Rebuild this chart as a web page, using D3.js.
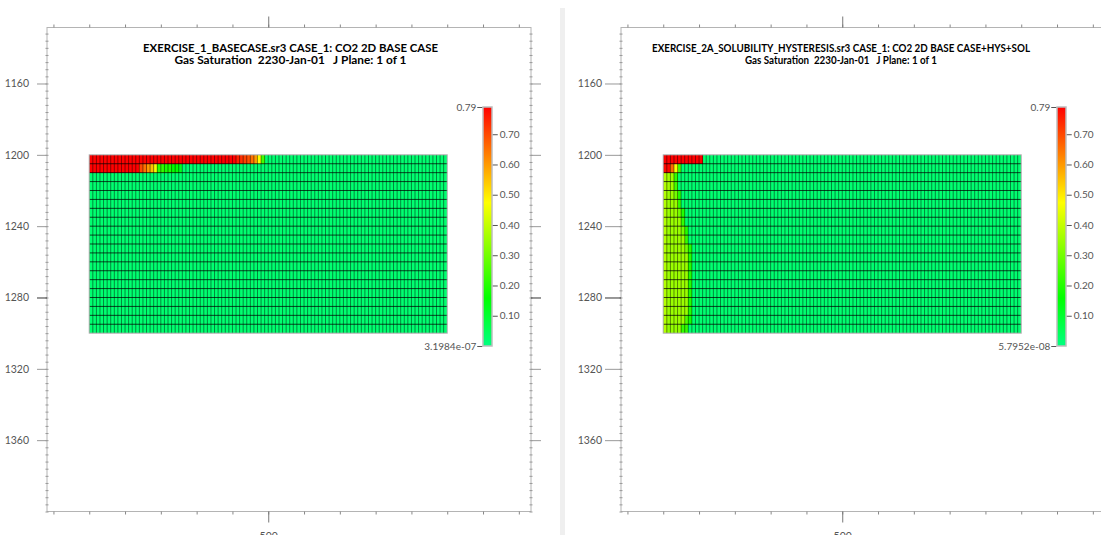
<!DOCTYPE html>
<html><head><meta charset="utf-8">
<script src="https://cdn.jsdelivr.net/npm/d3@7"></script>
<style>html,body{margin:0;padding:0;background:#fff;overflow:hidden}</style>
</head><body>
<svg id="chart" width="1101" height="535"></svg>
<script>
// ---------------- data ----------------
const nCols = 100;          // grid columns (I direction)
const nRows = 20;           // grid layers (K direction)
const cellWidth = 10;       // m
const cellHeight = 5;       // m
const gridTopDepth = 1200;  // m
const backgroundValue = 0.02;

// run-length rows: [value, count] from the left edge; rest of row = background
const leftRuns = [
  [[0.79,41],[0.75,1],[0.73,1],[0.71,1],[0.69,1],[0.65,1],[0.60,1],[0.47,1],[0.24,1]],
  [[0.79,14],[0.70,1],[0.65,1],[0.60,1],[0.55,1],[0.46,1],[0.22,2],[0.19,2],[0.16,2],[0.12,1]]
];
const rightRuns = [
  [[0.79,11]],
  [[0.78,2],[0.66,1],[0.47,1],[0.24,1]],
  [[0.38,1],[0.36,2],[0.22,1]],
  [[0.38,1],[0.36,2],[0.24,1]],
  [[0.38,1],[0.35,2],[0.30,1],[0.20,1]],
  [[0.38,1],[0.35,3],[0.22,1]],
  [[0.38,1],[0.35,3],[0.30,1],[0.20,1]],
  [[0.38,1],[0.35,4],[0.22,1]],
  [[0.38,1],[0.35,4],[0.30,1],[0.20,1]],
  [[0.38,1],[0.35,5],[0.22,1]],
  [[0.38,1],[0.35,5],[0.30,1],[0.20,1]],
  [[0.38,1],[0.35,6],[0.20,1]],
  [[0.38,1],[0.35,6],[0.20,1]],
  [[0.38,1],[0.35,6],[0.20,1]],
  [[0.38,1],[0.35,6],[0.20,1]],
  [[0.38,1],[0.35,6],[0.20,1]],
  [[0.38,1],[0.35,6],[0.20,1]],
  [[0.38,1],[0.35,6],[0.20,1]],
  [[0.38,1],[0.35,5],[0.25,1],[0.18,1]],
  [[0.38,1],[0.34,4],[0.22,2]]
];

const yTickLabels = [1160, 1200, 1240, 1280, 1320, 1360];
const yMinorTicks = d3.range(1132, 1401, 4);
const xTickLabels = [500];
const xMinorTicks = d3.range(-100, 1201, 100);
const colorbarTicks = [0.10, 0.20, 0.30, 0.40, 0.50, 0.60, 0.70];
const colorbarMax = 0.79;
const colorStops = [0, 0.158, 0.474, 0.79];
const colorRange = ["#00ff80", "#00ff00", "#ffff00", "#ff0000"];

const xDomain = [-118, 1234];
const yDomain = [1128.6, 1400];

const panels = [
  { frameX: [47, 531], frameY: [27.5, 511.5], yTickLen: 10, yLabelGap: 8,
    title: ["EXERCISE_1_BASECASE.sr3 CASE_1: CO2 2D BASE CASE",
            "Gas Saturation  2230-Jan-01   J Plane: 1 of 1"],
    titleCenter: 290.5, titleWidths: [295, 232], titleSize: 11,
    runs: leftRuns, cbX: 483, cbMinLabel: "3.1984e-07" },
  { frameX: [621, 1105], frameY: [27.5, 511.5], yTickLen: 16, yLabelGap: 3,
    title: ["EXERCISE_2A_SOLUBILITY_HYSTERESIS.sr3 CASE_1: CO2 2D BASE CASE+HYS+SOL",
            "Gas Saturation  2230-Jan-01   J Plane: 1 of 1"],
    titleCenter: 841, titleWidths: [378, 192], titleSize: 10.5,
    runs: rightRuns, cbX: 1057, cbMinLabel: "5.7952e-08" }
];

// ---------------- drawing ----------------
const svg = d3.select("#chart");
svg.append("rect").attr("width", 1101).attr("height", 535).attr("fill", "#fff");
svg.append("rect").attr("x", 560).attr("y", 8).attr("width", 5).attr("height", 527).attr("fill", "#efefef");

const color = d3.scaleLinear().domain(colorStops).range(colorRange).clamp(true);
const tickFont = "Lato, 'Noto Sans', sans-serif";

function expand(runs) {
  const grid = [];
  for (let r = 0; r < nRows; r++) {
    const row = [];
    (runs[r] || []).forEach(([v, n]) => { for (let i = 0; i < n; i++) row.push(v); });
    while (row.length < nCols) row.push(backgroundValue);
    grid.push(row);
  }
  return grid;
}

panels.forEach((p, pi) => {
  const g = svg.append("g");
  const x = d3.scaleLinear().domain(xDomain).range(p.frameX);
  const y = d3.scaleLinear().domain(yDomain).range(p.frameY);
  const [x0, x1] = p.frameX, [y0, y1] = p.frameY;

  // cells
  const grid = expand(p.runs);
  const cells = [];
  grid.forEach((row, r) => row.forEach((v, c) => cells.push({ r, c, v })));
  g.append("g").selectAll("rect").data(cells).join("rect")
    .attr("x", d => x(d.c * cellWidth))
    .attr("y", d => y(gridTopDepth + d.r * cellHeight))
    .attr("width", x(cellWidth) - x(0) + 0.05)
    .attr("height", y(cellHeight) - y(0) + 0.05)
    .attr("fill", d => color(d.v))
    .attr("shape-rendering", "crispEdges");

  // cell edges
  const gl = g.append("g").attr("stroke", "#000");
  gl.selectAll("line.v").data(d3.range(1, nCols)).join("line").attr("class", "v")
    .attr("x1", c => x(c * cellWidth)).attr("x2", c => x(c * cellWidth))
    .attr("y1", y(gridTopDepth)).attr("y2", y(gridTopDepth + nRows * cellHeight))
    .attr("stroke-width", 0.55).attr("stroke-opacity", 0.85);
  gl.selectAll("line.h").data(d3.range(1, nRows)).join("line").attr("class", "h")
    .attr("y1", r => y(gridTopDepth + r * cellHeight)).attr("y2", r => y(gridTopDepth + r * cellHeight))
    .attr("x1", x(0)).attr("x2", x(nCols * cellWidth))
    .attr("stroke-width", 0.9).attr("stroke-opacity", 0.8);
  g.append("rect")
    .attr("x", x(0)).attr("y", y(gridTopDepth))
    .attr("width", x(nCols * cellWidth) - x(0)).attr("height", y(gridTopDepth + nRows * cellHeight) - y(gridTopDepth))
    .attr("fill", "none").attr("stroke", "#aaa").attr("stroke-width", 1);

  // frame
  g.append("rect").attr("x", x0).attr("y", y0).attr("width", x1 - x0).attr("height", y1 - y0)
    .attr("fill", "none").attr("stroke", "#b4b4b4").attr("stroke-width", 1);

  const styleAxis = (sel, col) => {
    sel.select(".domain").remove();
    sel.selectAll(".tick line").attr("stroke", col);
    sel.selectAll(".tick text").attr("fill", "#555").style("font-family", tickFont).style("font-size", "10.5px");
  };

  // left axis minor
  g.append("g").attr("transform", `translate(${x0 + 1.5},0)`)
    .call(d3.axisLeft(y).tickValues(yMinorTicks).tickSize(3).tickFormat(""))
    .call(s => styleAxis(s, "#999"));
  // left axis major with labels
  g.append("g").attr("transform", `translate(${x0},0)`)
    .call(d3.axisLeft(y).tickValues(yTickLabels).tickSize(p.yTickLen).tickPadding(p.yLabelGap).tickFormat(d3.format("d")))
    .call(s => styleAxis(s, "#999"))
    .call(s => s.selectAll(".tick line").attr("stroke", d => d === 1280 ? "#333" : "#999"));
  // right side
  g.append("g").attr("transform", `translate(${x1 - 1.5},0)`)
    .call(d3.axisRight(y).tickValues(yMinorTicks).tickSize(3).tickFormat(""))
    .call(s => styleAxis(s, "#999"));
  g.append("g").attr("transform", `translate(${x1},0)`)
    .call(d3.axisRight(y).tickValues(yTickLabels).tickSize(10).tickFormat(""))
    .call(s => styleAxis(s, "#999"))
    .call(s => s.selectAll(".tick line").attr("stroke", d => d === 1280 ? "#333" : "#999"));
  // top
  g.append("g").attr("transform", `translate(0,${y0})`)
    .call(d3.axisTop(x).tickValues(xMinorTicks).tickSize(3).tickFormat(""))
    .call(s => styleAxis(s, "#888"));
  g.append("g").attr("transform", `translate(0,${y0})`)
    .call(d3.axisTop(x).tickValues(xTickLabels).tickSize(11).tickFormat(""))
    .call(s => styleAxis(s, "#777"));
  // bottom
  g.append("g").attr("transform", `translate(0,${y1})`)
    .call(d3.axisBottom(x).tickValues(xMinorTicks).tickSize(3).tickFormat(""))
    .call(s => styleAxis(s, "#888"));
  g.append("g").attr("transform", `translate(0,${y1})`)
    .call(d3.axisBottom(x).tickValues(xTickLabels).tickSize(11).tickPadding(10).tickFormat(d3.format("d")))
    .call(s => styleAxis(s, "#777"));

  // title
  p.title.forEach((t, i) => {
    g.append("text").attr("x", p.titleCenter).attr("y", 51.5 + i * 12.5)
      .attr("text-anchor", "middle")
      .attr("textLength", p.titleWidths[i]).attr("lengthAdjust", "spacingAndGlyphs")
      .style("white-space", "pre").attr("xml:space", "preserve")
      .style("font-family", "Lato, 'Noto Sans', sans-serif").style("font-weight", "bold")
      .style("font-size", p.titleSize + "px").attr("fill", "#000").text(t);
  });

  // colorbar
  const cbY = d3.scaleLinear().domain([0, colorbarMax]).range([346, 107]);
  const gradId = "cbgrad" + pi;
  const grad = svg.append("defs").append("linearGradient").attr("id", gradId)
    .attr("x1", 0).attr("y1", 1).attr("x2", 0).attr("y2", 0);
  colorStops.forEach(v => grad.append("stop").attr("offset", v / colorbarMax).attr("stop-color", color(v)));
  const cbW = 9;
  g.append("rect").attr("x", p.cbX).attr("y", cbY(colorbarMax)).attr("width", cbW)
    .attr("height", cbY(0) - cbY(colorbarMax))
    .attr("fill", `url(#${gradId})`).attr("stroke", "#bdbdbd").attr("stroke-width", 1.5);
  g.append("g").attr("transform", `translate(${p.cbX + cbW + 0.75},0)`)
    .call(d3.axisRight(cbY).tickValues(colorbarTicks).tickSize(5).tickPadding(2).tickFormat(d3.format(".2f")))
    .call(s => styleAxis(s, "#555"))
    .call(s => s.selectAll(".tick text").style("font-size", "10px"));
  g.append("g").attr("transform", `translate(${p.cbX - 0.75},0)`)
    .call(d3.axisLeft(cbY).tickValues([0, colorbarMax]).tickSize(5).tickPadding(1)
      .tickFormat(d => d === 0 ? p.cbMinLabel : d3.format(".2f")(d)))
    .call(s => styleAxis(s, "#555"))
    .call(s => s.selectAll(".tick text").style("font-size", "10px"));
});
</script>
</body></html>
